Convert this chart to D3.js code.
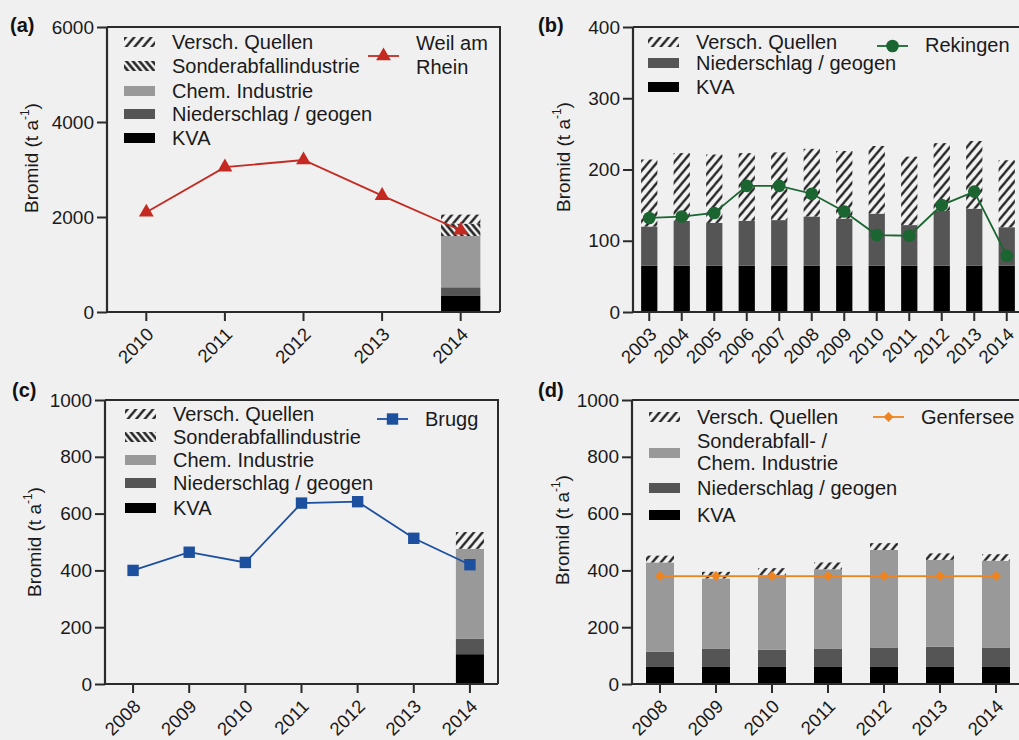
<!DOCTYPE html>
<html>
<head>
<meta charset="utf-8">
<script src="https://cdn.jsdelivr.net/npm/d3@7"></script>
<style>
  body { margin: 0; background: #f0f0f0; }
  svg { display: block; font-family: "Liberation Sans", Arial, sans-serif; }
</style>
</head>
<body>
<svg id="chart" width="1019" height="740"></svg>
<script>
// ---- data ----
const yearsA = [2010, 2011, 2012, 2013, 2014];
const weilAmRhein = [2100, 3050, 3200, 2450, 1720];
const kvaA = [0, 0, 0, 0, 350];
const niederA = [0, 0, 0, 0, 170];
const chemA = [0, 0, 0, 0, 1080];
const sonderA = [0, 0, 0, 0, 260];
const verschA = [0, 0, 0, 0, 190];

const yearsB = [2003, 2004, 2005, 2006, 2007, 2008, 2009, 2010, 2011, 2012, 2013, 2014];
const rekingen = [132, 134, 139, 177, 177, 166, 141, 108, 107, 150, 169, 79];
const kvaB = [65, 65, 65, 65, 65, 65, 65, 65, 65, 65, 65, 65];
const niederB = [55, 63, 60, 63, 64, 69, 66, 73, 57, 77, 80, 54];
const verschB = [94, 95, 96, 95, 95, 95, 95, 95, 96, 95, 95, 94];

const yearsC = [2008, 2009, 2010, 2011, 2012, 2013, 2014];
const brugg = [400, 464, 428, 637, 642, 513, 420];
const kvaC = [0, 0, 0, 0, 0, 0, 105];
const niederC = [0, 0, 0, 0, 0, 0, 55];
const chemC = [0, 0, 0, 0, 0, 0, 316];
const sonderC = [0, 0, 0, 0, 0, 0, 0];
const verschC = [0, 0, 0, 0, 0, 0, 59];

const yearsD = [2008, 2009, 2010, 2011, 2012, 2013, 2014];
const genfersee = [380, 380, 380, 380, 380, 380, 380];
const kvaD = [60, 60, 60, 60, 60, 60, 60];
const niederD = [54, 65, 61, 65, 67, 71, 67];
const chemD = [314, 247, 262, 279, 345, 306, 307];
const verschD = [24, 23, 25, 24, 24, 23, 23];

const ticksA = [0, 2000, 4000, 6000];
const ticksB = [0, 100, 200, 300, 400];
const ticksCD = [0, 200, 400, 600, 800, 1000];

const svg = d3.select("#chart");
const axisColor = "#2b2b2b";

// hatch patterns
const defs = svg.append("defs");
function hatch(id, angle, size, width) {
  const p = defs.append("pattern")
    .attr("id", id)
    .attr("patternUnits", "userSpaceOnUse")
    .attr("width", size).attr("height", size)
    .attr("patternTransform", `rotate(${angle})`);
  p.append("rect").attr("width", size).attr("height", size).attr("fill", "#f2f2f2");
  p.append("line").attr("x1", size / 2).attr("x2", size / 2)
    .attr("y1", 0).attr("y2", size)
    .attr("stroke", "#151515").attr("stroke-width", width);
}
hatch("versch", 40, 6.5, 2.2);
hatch("sonder", -40, 5, 2.4);

const fills = {
  kva: "#000000",
  nieder: "#555555",
  chem: "#999999",
  sonder: "url(#sonder)",
  versch: "url(#versch)"
};

function drawPanel(cfg) {
  const g = svg.append("g");
  const x = d3.scaleBand().domain(cfg.years).range([cfg.left, cfg.right])
    .paddingInner(0.5).paddingOuter(0.25);
  const y = d3.scaleLinear().domain([0, cfg.ymax]).range([cfg.bottom, cfg.top]);

  // stacked bars
  const rows = cfg.years.map((yr, i) => {
    const r = { year: yr };
    cfg.series.forEach(s => { r[s.key] = s.values[i]; });
    return r;
  });
  const stack = d3.stack().keys(cfg.series.map(s => s.key));
  const layers = stack(rows);
  g.append("g").selectAll("g").data(layers).join("g")
    .attr("fill", d => fills[d.key])
    .selectAll("rect").data(d => d.filter(v => v[1] - v[0] > 0)).join("rect")
    .attr("x", d => x(d.data.year))
    .attr("width", x.bandwidth())
    .attr("y", d => y(d[1]))
    .attr("height", d => y(d[0]) - y(d[1]));

  // frame (top + right)
  g.append("path")
    .attr("d", `M${cfg.left},${cfg.top}H${cfg.right}V${cfg.bottom}`)
    .attr("fill", "none").attr("stroke", axisColor).attr("stroke-width", 2);

  // axes
  const yAxis = g.append("g").attr("transform", `translate(${cfg.left},0)`)
    .call(d3.axisLeft(y).tickValues(cfg.ticks).tickSize(10).tickPadding(3).tickFormat(d3.format("d")));
  const xAxis = g.append("g").attr("transform", `translate(0,${cfg.bottom})`)
    .call(d3.axisBottom(x).tickSize(9).tickSizeOuter(0));
  [yAxis, xAxis].forEach(a => {
    a.select(".domain").attr("stroke", axisColor).attr("stroke-width", 2.2);
    a.selectAll(".tick line").attr("stroke", axisColor).attr("stroke-width", 2);
    a.selectAll("text").attr("fill", "#1a1a1a").style("font-size", "19px");
  });
  yAxis.select(".domain").attr("d", `M0,${cfg.top}V${cfg.bottom}`);
  xAxis.select(".domain").attr("d", `M${cfg.left},0H${cfg.right}`);
  xAxis.selectAll("text")
    .style("font-size", "18.5px")
    .attr("text-anchor", "end")
    .attr("transform", "translate(4,19) rotate(-45)")
    .attr("x", 0).attr("y", 0).attr("dy", "0.35em");

  // y label
  const yl = g.append("text")
    .attr("transform", `translate(${cfg.ylabelX},${cfg.ylabelY}) rotate(-90)`)
    .attr("text-anchor", "middle").attr("dy", "0.35em")
    .style("font-size", "19px").attr("fill", "#1a1a1a");
  yl.append("tspan").text("Bromid (t a");
  yl.append("tspan").text("-1").style("font-size", "12px").attr("dy", "-0.7em");
  yl.append("tspan").text(")").attr("dy", "0.45em");

  // panel label
  g.append("text").attr("x", cfg.labelX).attr("y", cfg.labelY)
    .text(cfg.label).style("font-size", "20px").style("font-weight", "bold").attr("fill", "#111");

  // line series
  const cx = d => x(d.year) + x.bandwidth() / 2;
  const pts = cfg.years.map((yr, i) => ({ year: yr, v: cfg.line[i] }));
  g.append("path").datum(pts)
    .attr("d", d3.line().x(cx).y(d => y(d.v)))
    .attr("fill", "none").attr("stroke", cfg.lineColor).attr("stroke-width", 1.8);
  const sym = d3.symbol().type(cfg.symbol).size(cfg.symbolSize);
  g.append("g").selectAll("path").data(pts).join("path")
    .attr("transform", d => `translate(${cx(d)},${y(d.v)})${cfg.symbolRotate || ""}`)
    .attr("d", sym).attr("fill", cfg.lineColor);

  // legend (bars)
  const lg = g.append("g");
  cfg.legend.forEach(item => {
    lg.append("rect").attr("x", cfg.legX).attr("y", item.sy - 5)
      .attr("width", 31).attr("height", 10).attr("fill", fills[item.key]);
    item.lines.forEach((t, j) => {
      lg.append("text").attr("x", cfg.legX + 48).attr("y", item.ty + j * 22)
        .attr("dy", "0.35em").text(t).style("font-size", "20px").attr("fill", "#1a1a1a");
    });
  });

  // legend (line)
  const ll = cfg.lineLegend;
  lg.append("line").attr("x1", ll.x).attr("x2", ll.x + 31).attr("y1", ll.y).attr("y2", ll.y)
    .attr("stroke", cfg.lineColor).attr("stroke-width", 1.8);
  lg.append("path").attr("transform", `translate(${ll.x + 15.5},${ll.y})${cfg.symbolRotate || ""}`)
    .attr("d", sym).attr("fill", cfg.lineColor);
  ll.text.forEach((t, j) => {
    lg.append("text").attr("x", ll.x + 48).attr("y", ll.ty + j * 24)
      .attr("dy", "0.35em").text(t).style("font-size", "20px").attr("fill", "#1a1a1a");
  });
}

drawPanel({
  label: "(a)", labelX: 10, labelY: 32,
  years: yearsA, left: 107, right: 500, top: 27, bottom: 312, ymax: 6000, ticks: ticksA,
  ylabelX: 31, ylabelY: 158,
  series: [
    { key: "kva", values: kvaA }, { key: "nieder", values: niederA }, { key: "chem", values: chemA },
    { key: "sonder", values: sonderA }, { key: "versch", values: verschA }
  ],
  line: weilAmRhein, lineColor: "#c42a22", symbol: d3.symbolTriangle, symbolSize: 95,
  legX: 124,
  legend: [
    { key: "versch", sy: 42, ty: 42, lines: ["Versch. Quellen"] },
    { key: "sonder", sy: 66, ty: 66, lines: ["Sonderabfallindustrie"] },
    { key: "chem", sy: 91, ty: 91, lines: ["Chem. Industrie"] },
    { key: "nieder", sy: 114, ty: 114, lines: ["Niederschlag / geogen"] },
    { key: "kva", sy: 138, ty: 138, lines: ["KVA"] }
  ],
  lineLegend: { x: 368, y: 56, ty: 43, text: ["Weil am", "Rhein"] }
});

drawPanel({
  label: "(b)", labelX: 538, labelY: 32,
  years: yearsB, left: 633, right: 1023, top: 27, bottom: 312, ymax: 400, ticks: ticksB,
  ylabelX: 563, ylabelY: 157,
  series: [
    { key: "kva", values: kvaB }, { key: "nieder", values: niederB }, { key: "versch", values: verschB }
  ],
  line: rekingen, lineColor: "#1b6530", symbol: d3.symbolCircle, symbolSize: 125,
  legX: 648,
  legend: [
    { key: "versch", sy: 42, ty: 42, lines: ["Versch. Quellen"] },
    { key: "nieder", sy: 63, ty: 63, lines: ["Niederschlag / geogen"] },
    { key: "kva", sy: 87, ty: 87, lines: ["KVA"] }
  ],
  lineLegend: { x: 877, y: 46, ty: 45, text: ["Rekingen"] }
});

drawPanel({
  label: "(c)", labelX: 12, labelY: 397,
  years: yearsC, left: 105, right: 498, top: 400, bottom: 684, ymax: 1000, ticks: ticksCD,
  ylabelX: 34, ylabelY: 542,
  series: [
    { key: "kva", values: kvaC }, { key: "nieder", values: niederC }, { key: "chem", values: chemC },
    { key: "sonder", values: sonderC }, { key: "versch", values: verschC }
  ],
  line: brugg, lineColor: "#1d4f9f", symbol: d3.symbolSquare, symbolSize: 130,
  legX: 125,
  legend: [
    { key: "versch", sy: 414, ty: 414, lines: ["Versch. Quellen"] },
    { key: "sonder", sy: 437, ty: 437, lines: ["Sonderabfallindustrie"] },
    { key: "chem", sy: 460, ty: 460, lines: ["Chem. Industrie"] },
    { key: "nieder", sy: 483, ty: 483, lines: ["Niederschlag / geogen"] },
    { key: "kva", sy: 508, ty: 508, lines: ["KVA"] }
  ],
  lineLegend: { x: 377, y: 419, ty: 419, text: ["Brugg"] }
});

drawPanel({
  label: "(d)", labelX: 538, labelY: 397,
  years: yearsD, left: 632, right: 1024, top: 400, bottom: 684, ymax: 1000, ticks: ticksCD,
  ylabelX: 562, ylabelY: 530,
  series: [
    { key: "kva", values: kvaD }, { key: "nieder", values: niederD }, { key: "chem", values: chemD },
    { key: "versch", values: verschD }
  ],
  line: genfersee, lineColor: "#ee8420", symbol: d3.symbolSquare, symbolSize: 50, symbolRotate: " rotate(45)",
  legX: 649,
  legend: [
    { key: "versch", sy: 417, ty: 417, lines: ["Versch. Quellen"] },
    { key: "chem", sy: 453, ty: 441, lines: ["Sonderabfall- /", "Chem. Industrie"] },
    { key: "nieder", sy: 488, ty: 488, lines: ["Niederschlag / geogen"] },
    { key: "kva", sy: 515, ty: 515, lines: ["KVA"] }
  ],
  lineLegend: { x: 873, y: 417, ty: 417, text: ["Genfersee"] }
});
</script>
</body>
</html>
